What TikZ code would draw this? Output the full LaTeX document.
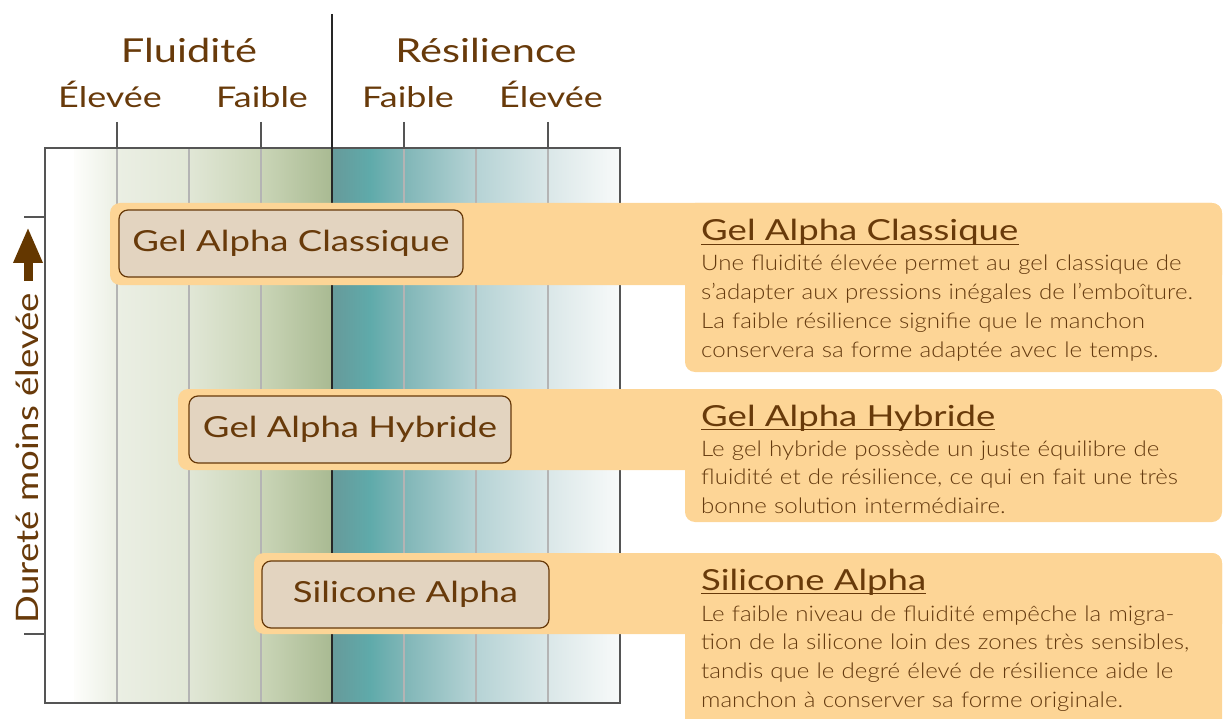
\documentclass[tikz,border=0pt]{standalone}
\usepackage{fontspec}
\setmainfont{Lato}
\newfontfamily\fsA{Lato}[FakeStretch=1.26]
\newfontfamily\fsB{Lato Light}[FakeStretch=1.12]
\newfontfamily\fsC{Lato}[FakeStretch=1.18]
\usetikzlibrary{arrows.meta}
\definecolor{brn}{RGB}{104,58,10}
\definecolor{bodyc}{RGB}{100,58,15}
\definecolor{arrbrn}{RGB}{100,55,0}
\definecolor{bandc}{RGB}{253,213,150}
\definecolor{lblfill}{RGB}{227,212,192}
\definecolor{gridc}{RGB}{180,180,180}
\definecolor{framec}{RGB}{85,85,85}
\definecolor{gA}{HTML}{FFFFFF}
\definecolor{gB}{HTML}{FDFDFB}
\definecolor{gC}{HTML}{EBEFE4}
\definecolor{gD}{HTML}{E1E7D6}
\definecolor{gE}{HTML}{CAD5B7}
\definecolor{gF}{HTML}{A9BA92}
\definecolor{tA}{HTML}{679A9A}
\definecolor{tB}{HTML}{5FAAAA}
\definecolor{tC}{HTML}{80B6B7}
\definecolor{tD}{HTML}{B6D3D5}
\definecolor{tE}{HTML}{DAE7E8}
\definecolor{tF}{HTML}{F8FAFA}
\tikzset{
  band/.style={fill=bandc, rounded corners=10pt},
  lbl/.style={draw=brn, line width=1.2pt, fill=lblfill, rounded corners=9pt,
    text=brn, font=\fsA\fontsize{29}{34}\selectfont, minimum height=67pt, inner sep=0pt},
  ttl/.style={text=brn, font=\fsA\fontsize{29}{34}\selectfont, inner sep=0pt, anchor=base west},
  body/.style={text=bodyc, font=\fsB\fontsize{21.5}{28.8}\selectfont, inner sep=0pt,
    anchor=base west, text width=530pt, align=left},
  head/.style={text=brn, font=\fsA\fontsize{33}{38}\selectfont, inner sep=0pt, anchor=base},
  sub/.style={text=brn, font=\fsA\fontsize{28.5}{34}\selectfont, inner sep=0pt, anchor=base},
  gridline/.style={draw=gridc, line width=1.2pt},
  tick/.style={draw=framec, line width=1.4pt},
  uline/.style={draw=brn, line width=1.5pt}
}
\begin{document}
\begin{tikzpicture}[x=1pt,y=-1pt]
\useasboundingbox (0,0) rectangle (1228,719);
% gradients left half
\fill[gA] (45,148) rectangle (75,703);
\shade[left color=gB, right color=gC] (74.5,148) rectangle (117,703);
\shade[left color=gC, right color=gD] (117,148) rectangle (189,703);
\shade[left color=gD, right color=gE] (189,148) rectangle (261,703);
\shade[left color=gE, right color=gF] (261,148) rectangle (332,703);
% gradients right half
\shade[left color=tA, right color=tB] (332,148) rectangle (370,703);
\shade[left color=tB, right color=tC] (369.5,148) rectangle (404,703);
\shade[left color=tC, right color=tD] (404,148) rectangle (476,703);
\shade[left color=tD, right color=tE] (476,148) rectangle (548,703);
\shade[left color=tE, right color=tF] (548,148) rectangle (620,703);
% grid lines
\foreach \gx in {117,189,261,404,476,548} {\draw[gridline] (\gx,148) -- (\gx,703);}
% frame
\draw[framec, line width=1.5pt] (45,148) rectangle (620,703);
% top ticks
\foreach \gx in {117,261,404,548} {\draw[tick] (\gx,122) -- (\gx,148);}
% left ticks
\draw[tick] (24,217) -- (45,217);
\draw[tick] (24,634) -- (45,634);
% centre line
\draw[black!85, line width=2.8pt] (332,14) -- (332,703);
% headers
\node[head] (fluid) at (189,63) {Fluidité};
\node[head] (resil) at (486,63) {Résilience};
\node[sub] (fe1) at (110,108) {Élevée};
\node[sub] (ff1) at (262,108) {Faible};
\node[sub] (rf1) at (408,108) {Faible};
\node[sub] (re1) at (551,108) {Élevée};
% vertical axis label and arrow
\node[text=brn, font=\fsC\fontsize{31}{36}\selectfont, rotate=90, inner sep=0pt] (dur) at (27,458) {Dureté moins élevée};
\coordinate (arrbot) at (28,281);
\coordinate (arrtop) at (28,227);
\draw[arrbrn, line width=9pt, -{Triangle[width=27pt,length=36pt]}] (arrbot) -- (arrtop);
% bands
\fill[band] (110,203) rectangle (1222,285);
\fill[band] (685,203) rectangle (1222,372);
\fill[band] (178,389) rectangle (1222,470);
\fill[band] (685,389) rectangle (1222,522);
\fill[band] (254,553) rectangle (1222,634);
\fill[band] (685,553) rectangle (1222,740);
% labels in chart
\node[lbl, minimum width=344pt] (gac) at (291,243.5) {Gel Alpha Classique};
\node[lbl, minimum width=322pt] (gah) at (350,429.5) {Gel Alpha Hybride};
\node[lbl, minimum width=287pt] (sia) at (405.5,594.5) {Silicone Alpha};
% descriptions
\node[ttl] (tgac) at (701,241) {Gel Alpha Classique};
\draw[uline] ([yshift=-3.5pt]tgac.base west) -- ([yshift=-3.5pt]tgac.base east);
\node[body] (dgac) at (701,271) {Une fluidité élevée permet au gel classique de\\
s’adapter aux pressions inégales de l’emboîture.\\
La faible résilience signifie que le manchon\\
conservera sa forme adaptée avec le temps.};
\node[ttl] (tgah) at (701,426) {Gel Alpha Hybride};
\draw[uline] ([yshift=-3.5pt]tgah.base west) -- ([yshift=-3.5pt]tgah.base east);
\node[body] (dgah) at (701,456) {Le gel hybride possède un juste équilibre de\\
fluidité et de résilience, ce qui en fait une très\\
bonne solution intermédiaire.};
\node[ttl] (tsia) at (701,590) {Silicone Alpha};
\draw[uline] ([yshift=-3.5pt]tsia.base west) -- ([yshift=-3.5pt]tsia.base east);
\node[body] (dsia) at (701,621) {Le faible niveau de fluidité empêche la migra-\\
tion de la silicone loin des zones très sensibles,\\
tandis que le degré élevé de résilience aide le\\
manchon à conserver sa forme originale.};
\end{tikzpicture}
\end{document}
